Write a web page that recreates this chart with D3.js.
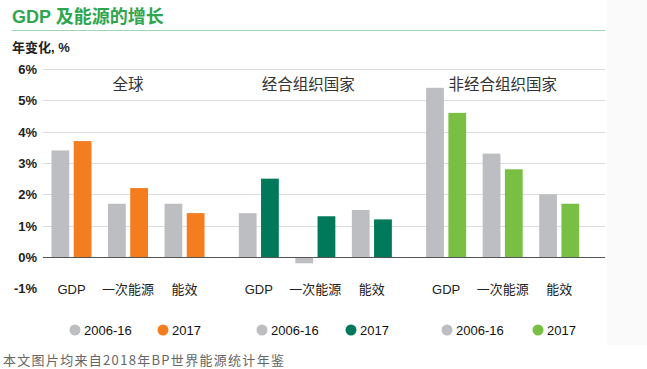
<!DOCTYPE html>
<html><head><meta charset="utf-8">
<script src="https://cdn.jsdelivr.net/npm/d3@7"></script>
<style>
html,body{margin:0;padding:0;background:#fff;}
svg{display:block;font-family:"Liberation Sans",Arial,"Noto Sans CJK SC",sans-serif;}
</style></head>
<body>
<svg id="c" width="647" height="369"></svg>
<script>
const groups = ["全球", "经合组织国家", "非经合组织国家"];
const categories = ["GDP", "一次能源", "能效"];
const seriesNames = ["2006-16", "2017"];
const hist = [[3.4, 1.7, 1.7], [1.4, -0.2, 1.5], [5.4, 3.3, 2.0]];
const y2017 = [[3.7, 2.2, 1.4], [2.5, 1.3, 1.2], [4.6, 2.8, 1.7]];
const yTicks = [-1, 0, 1, 2, 3, 4, 5, 6];
const grayColor = "#BDBEC1";
const groupColors = ["#F47D20", "#00785A", "#78BF44"];

const svg = d3.select("#c");
const cjk = '"Noto Sans CJK SC","Liberation Sans",Arial,sans-serif';

// right light background
svg.append("rect").attr("x", 607).attr("y", 0).attr("width", 40).attr("height", 345).attr("fill", "#fafafa");

// title
svg.append("text").attr("x", 12).attr("y", 23).attr("font-size", 18).attr("font-weight", "bold")
  .attr("fill", "#2FA550").style("font-family", '"Liberation Sans",Arial,"Noto Sans CJK SC",sans-serif')
  .text("GDP 及能源的增长");
svg.append("line").attr("x1", 12).attr("x2", 605).attr("y1", 30.5).attr("y2", 30.5)
  .attr("stroke", "#9FD6B2").attr("stroke-width", 1.2);
svg.append("text").attr("x", 12).attr("y", 52).attr("font-size", 13).attr("font-weight", "bold")
  .attr("fill", "#222").text("年变化, %");

const y = d3.scaleLinear().domain([0, 6]).range([257, 69]);
const x0 = d3.scaleBand().domain(groups).range([43, 605]).paddingInner(0).paddingOuter(0);
const x1 = d3.scaleBand().domain(categories).range([0, 170]).paddingInner(0.292).paddingOuter(0.15);
const x2 = d3.scaleBand().domain(seriesNames).range([0, x1.bandwidth()]).paddingInner(0.2);

// gridlines
svg.append("g").selectAll("line").data(yTicks.filter(t => t > 0)).join("line")
  .attr("x1", 43).attr("x2", 605)
  .attr("y1", d => Math.round(y(d)) + 0.5).attr("y2", d => Math.round(y(d)) + 0.5)
  .attr("stroke", "#DCDCDC").attr("stroke-width", 1);

// y labels
svg.append("g").selectAll("text").data(yTicks).join("text")
  .attr("x", 37).attr("y", d => y(d) + 5)
  .attr("text-anchor", "end").attr("font-size", 13).attr("font-weight", "bold").attr("fill", "#222")
  .text(d => d + "%");

// bars
const labelDx = [0, -7, 0];
groups.forEach((g, gi) => {
  const gg = svg.append("g").attr("transform", `translate(${x0(g)},0)`);
  categories.forEach((c, ci) => {
    const vals = [hist[gi][ci], y2017[gi][ci]];
    vals.forEach((v, si) => {
      gg.append("rect")
        .attr("x", x1(c) + x2(seriesNames[si]))
        .attr("width", x2.bandwidth())
        .attr("y", Math.min(y(v), y(0)))
        .attr("height", Math.abs(y(v) - y(0)))
        .attr("fill", si === 0 ? grayColor : groupColors[gi]);
    });
    gg.append("text").attr("x", x1(c) + x1.bandwidth() / 2).attr("y", 294)
      .attr("text-anchor", "middle").attr("font-size", 13).attr("fill", "#222")
      .style("font-family", '"Liberation Sans",Arial,"Noto Sans CJK SC",sans-serif')
      .text(c);
  });
  gg.append("text").attr("x", 85 + labelDx[gi]).attr("y", 90)
    .attr("text-anchor", "middle").attr("font-size", 15.5).attr("fill", "#333")
    .style("font-family", cjk).text(g);
});

// zero axis
svg.append("line").attr("x1", 43).attr("x2", 605).attr("y1", Math.round(y(0)) + 0.5).attr("y2", Math.round(y(0)) + 0.5)
  .attr("stroke", "#555").attr("stroke-width", 1.2);

// legend
const legendX = [75, 262, 447];
const legendGap = [88, 89, 91];
groups.forEach((g, gi) => {
  const lg = svg.append("g").attr("transform", `translate(${legendX[gi]},330)`);
  [grayColor, groupColors[gi]].forEach((col, si) => {
    const ox = si === 0 ? 0 : legendGap[gi];
    lg.append("circle").attr("cx", ox).attr("cy", 0).attr("r", 5.5).attr("fill", col);
    lg.append("text").attr("x", ox + 9).attr("y", 4.7).attr("font-size", 13).attr("fill", "#111")
      .text(seriesNames[si]);
  });
});

// footer
svg.append("text").attr("x", 3).attr("y", 365).attr("font-size", 13).attr("fill", "#666")
  .attr("letter-spacing", 1.3)
  .style("font-family", cjk).text("本文图片均来自2018年BP世界能源统计年鉴");
</script>
</body></html>
